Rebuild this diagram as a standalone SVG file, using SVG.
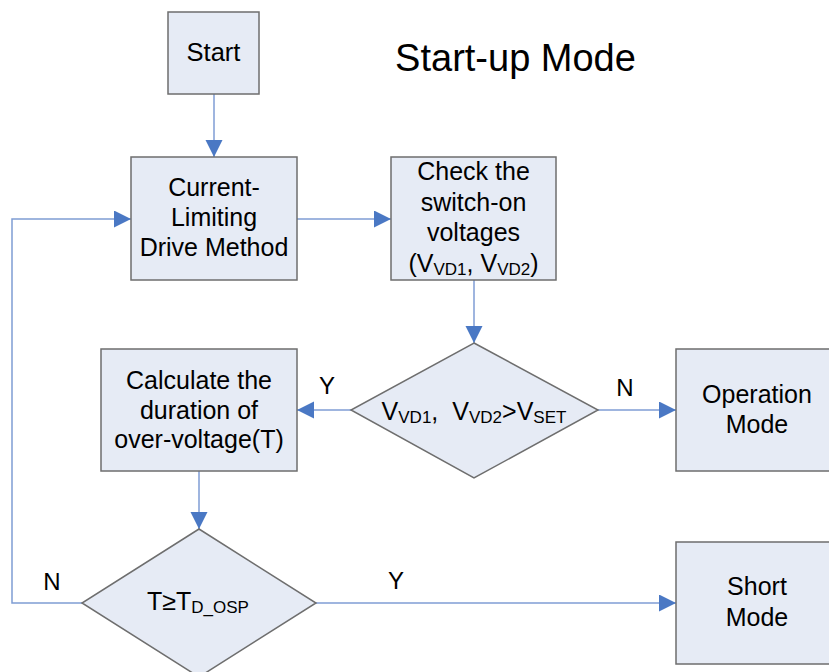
<svg xmlns="http://www.w3.org/2000/svg" width="829" height="672" viewBox="0 0 829 672">
<style>
.box{fill:#e6ebf5;stroke:#6e6e6e;stroke-width:1.5}
.t{font-family:"Liberation Sans",Arial,sans-serif;font-size:25px;fill:#000;text-anchor:middle}
.lbl{font-family:"Liberation Sans",Arial,sans-serif;font-size:24px;fill:#000;text-anchor:middle}
.c{fill:none;stroke:#7f9dd4;stroke-width:1.5}
.s{font-size:17px}
</style>
<defs>
<marker id="ah" markerUnits="userSpaceOnUse" markerWidth="18" markerHeight="18" refX="17" refY="8.5" orient="auto">
<path d="M0,0 L17,8.5 L0,17 z" fill="#4a78c4"/>
</marker>
</defs>
<rect width="829" height="672" fill="#fff"/>
<text x="515.5" y="71" class="t" style="font-size:38px">Start-up Mode</text>
<g id="connectors">
<path class="c" d="M214,94 V157" marker-end="url(#ah)"/>
<path class="c" d="M297,219 H391" marker-end="url(#ah)"/>
<path class="c" d="M474,280 V343" marker-end="url(#ah)"/>
<path class="c" d="M351,410 H297" marker-end="url(#ah)"/>
<path class="c" d="M598,410 H676" marker-end="url(#ah)"/>
<path class="c" d="M199,471 V529" marker-end="url(#ah)"/>
<path class="c" d="M316,603 H676" marker-end="url(#ah)"/>
<path class="c" d="M82,603 H12 V219 H131" marker-end="url(#ah)"/>
</g>
<g id="start">
<rect class="box" x="168" y="12" width="91" height="82"/>
<text class="t" x="213.5" y="61" style="font-size:25.5px">Start</text>
</g>
<g id="current-limiting">
<rect class="box" x="131" y="157" width="166" height="123"/>
<text class="t" x="214" y="196">Current-</text>
<text class="t" x="214" y="226">Limiting</text>
<text class="t" x="214" y="256">Drive Method</text>
</g>
<g id="check">
<rect class="box" x="391" y="157" width="165" height="123"/>
<text class="t" x="473.5" y="180">Check the</text>
<text class="t" x="473.5" y="210.5">switch-on</text>
<text class="t" x="473.5" y="241">voltages</text>
<text class="t" x="473.5" y="272">(V<tspan class="s" dy="3">VD1</tspan><tspan dy="-3">, V</tspan><tspan class="s" dy="3">VD2</tspan><tspan dy="-3">)</tspan></text>
</g>
<g id="decision1">
<polygon class="box" points="474,343 598,410 474,478 351,410"/>
<text class="t" x="474" y="420">V<tspan class="s" dy="3">VD1</tspan><tspan dy="-3">,</tspan><tspan dx="14">V</tspan><tspan class="s" dy="3">VD2</tspan><tspan dy="-3">&gt;V</tspan><tspan class="s" dy="3">SET</tspan></text>
</g>
<g id="calculate">
<rect class="box" x="101" y="349" width="196" height="122"/>
<text class="t" x="199" y="389">Calculate the</text>
<text class="t" x="199" y="418.5">duration of</text>
<text class="t" x="199" y="448">over-voltage(T)</text>
</g>
<g id="operation">
<rect class="box" x="676" y="349" width="162" height="122"/>
<text class="t" x="757" y="403">Operation</text>
<text class="t" x="757" y="433">Mode</text>
</g>
<g id="decision2">
<polygon class="box" points="199,529 316,603 199,677 82,603"/>
<text class="t" x="198" y="610">T≥T<tspan class="s" dy="3">D_OSP</tspan></text>
</g>
<g id="short">
<rect class="box" x="676" y="542" width="162" height="122"/>
<text class="t" x="757" y="595">Short</text>
<text class="t" x="757" y="626">Mode</text>
</g>
<g id="labels">
<text class="lbl" x="327" y="394">Y</text>
<text class="lbl" x="625" y="396">N</text>
<text class="lbl" x="52" y="590">N</text>
<text class="lbl" x="396" y="589">Y</text>
</g>
</svg>
